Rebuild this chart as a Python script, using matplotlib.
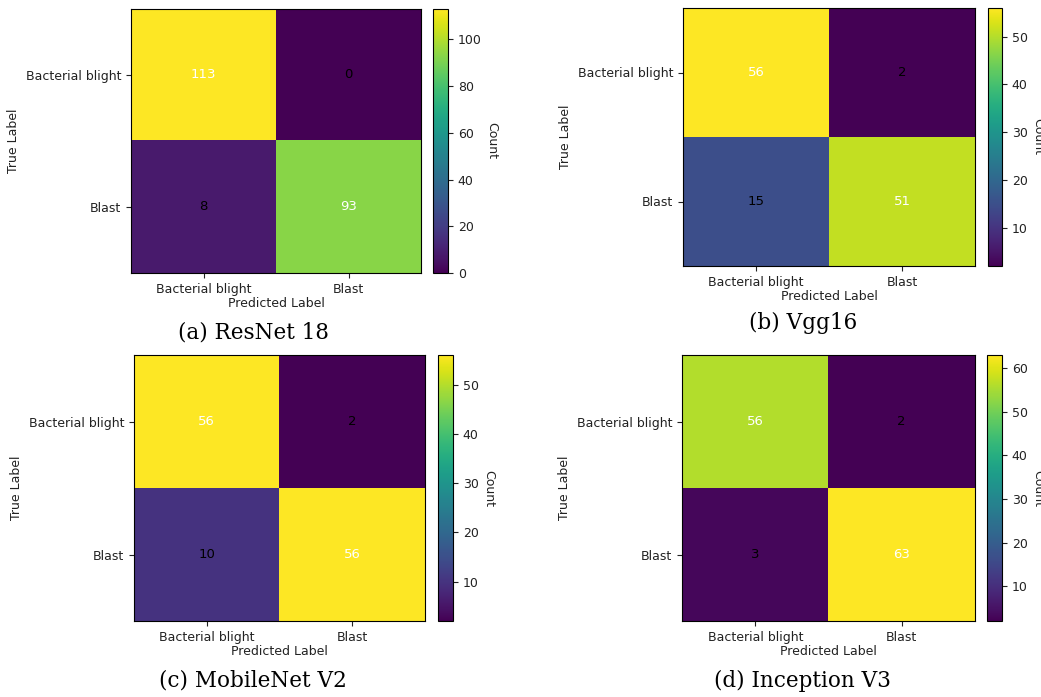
import numpy as np
import matplotlib
matplotlib.use("Agg")
import matplotlib.pyplot as plt

# Confusion matrices for the four rice-disease classifiers
class_names = ["Bacterial blight", "Blast"]
resnet18 = [[113, 0], [8, 93]]
vgg16 = [[56, 2], [15, 51]]
mobilenet_v2 = [[56, 2], [10, 56]]
inception_v3 = [[56, 2], [3, 63]]

matrices = [resnet18, vgg16, mobilenet_v2, inception_v3]
captions = ["(a) ResNet 18", "(b) Vgg16", "(c) MobileNet V2", "(d) Inception V3"]

W, H = 1041, 697
plt.rcParams["font.size"] = 9
plt.rcParams["text.color"] = "#222222"
plt.rcParams["axes.labelcolor"] = "#222222"
plt.rcParams["xtick.color"] = "#222222"
plt.rcParams["ytick.color"] = "#222222"

fig = plt.figure(figsize=(W / 100, H / 100), dpi=100)


def px_axes(x0, y0, x1, y1):
    # pixel box (top-left origin) -> figure axes
    return fig.add_axes([x0 / W, 1 - y1 / H, (x1 - x0) / W, (y1 - y0) / H])


# heatmap box, colorbar box, caption centre (pixels)
layout = [
    ((131, 9, 421, 273), (433, 9, 448, 273), (253, 333)),
    ((683, 8, 975, 266), (988, 8, 1002, 266), (803, 323)),
    ((134, 355, 425, 621), (438, 355, 453, 621), (253, 681)),
    ((682, 355, 975, 621), (987, 355, 1002, 621), (803, 681)),
]

for cm, caption, (box, cbox, cpos) in zip(matrices, captions, layout):
    cm = np.array(cm)
    ax = px_axes(*box)
    im = ax.imshow(cm, cmap="viridis", aspect="auto", interpolation="nearest")

    thresh = (cm.max() + cm.min()) / 2
    for i in range(cm.shape[0]):
        for j in range(cm.shape[1]):
            color = "white" if cm[i, j] > thresh else "black"
            ax.text(j, i, str(cm[i, j]), ha="center", va="center",
                    color=color, fontsize=9.5)

    ax.set_xticks(range(len(class_names)))
    ax.set_yticks(range(len(class_names)))
    ax.set_xticklabels(class_names)
    ax.set_yticklabels(class_names)
    ax.set_xlabel("Predicted Label", labelpad=1)
    ax.set_ylabel("True Label")

    cax = px_axes(*cbox)
    cbar = fig.colorbar(im, cax=cax)
    cbar.set_label("Count", rotation=270, labelpad=12)

    fig.text(cpos[0] / W, 1 - cpos[1] / H, caption, ha="center", va="center",
             family="DejaVu Serif", fontsize=15.5, color="black")

fig.savefig("out.png", dpi=100)
